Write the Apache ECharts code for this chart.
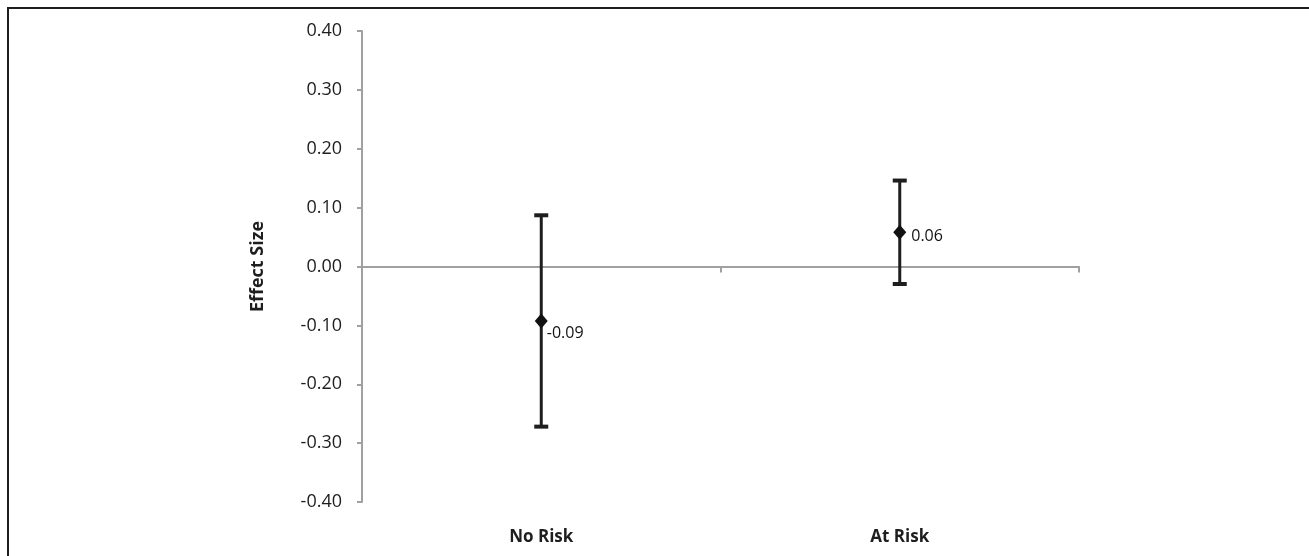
<!DOCTYPE html>
<html><head><meta charset="utf-8">
<script src="https://cdn.jsdelivr.net/npm/echarts@6/dist/echarts.min.js"></script>
<style>html,body{margin:0;padding:0;background:#fff}#c{width:1309px;height:556px}</style>
</head><body><div id="c"></div>
<script>
const categories = ['No Risk', 'At Risk'];
const effectSize = [-0.0926, 0.058];
const ciLow = [-0.272, -0.0297];
const ciHigh = [0.087, 0.146];
const yTicks = [-0.4, -0.3, -0.2, -0.1, 0, 0.1, 0.2, 0.3, 0.4];

const FONT = '"Open Sans", "Noto Sans", sans-serif';
const chart = echarts.init(document.getElementById('c'), null, {renderer: 'canvas'});
const labelOffsets = [[-5, 12], [1, 4]];

chart.setOption({
  animation: false,
  graphic: [{
    type: 'rect', shape: {x: 8, y: 8, width: 1400, height: 600},
    style: {fill: 'none', stroke: '#1e1e1e', lineWidth: 2}, z: 100
  }],
  grid: {left: 362, right: 230, top: 31, bottom: 54},
  xAxis: [{
    type: 'category', data: categories, position: 'bottom',
    axisLine: {show: false, onZero: false}, axisTick: {show: false},
    axisLabel: {color: '#1e1e1e', fontFamily: FONT, fontWeight: 'bold', fontSize: 17, margin: 27}
  }, {
    type: 'category', data: categories, position: 'bottom',
    axisLine: {onZero: true, lineStyle: {color: '#a0a0a0', width: 2}},
    axisTick: {show: true, length: 6, lineStyle: {color: '#a0a0a0', width: 2}},
    axisLabel: {show: false}
  }],
  yAxis: {
    type: 'value', min: -0.4, max: 0.4, interval: 0.1,
    name: 'Effect Size', nameLocation: 'middle', nameRotate: 90, nameGap: 95,
    nameTextStyle: {color: '#1e1e1e', fontFamily: FONT, fontWeight: 'bold', fontSize: 18},
    axisLine: {show: true, lineStyle: {color: '#a0a0a0', width: 2}},
    axisTick: {show: true, length: 5, lineStyle: {color: '#a0a0a0', width: 2}},
    splitLine: {show: false},
    axisLabel: {
      color: '#1e1e1e', fontFamily: FONT, fontSize: 18, margin: 20,
      formatter: v => {
        const t = yTicks.find(x => Math.abs(x - v) < 1e-9);
        return (t !== undefined ? t : v).toFixed(2);
      }
    }
  },
  series: [{
    type: 'custom',
    xAxisIndex: 1,
    data: categories.map((c, i) => [i, ciLow[i], ciHigh[i]]),
    renderItem: function (params, api) {
      const x = api.value(0);
      const lo = api.coord([x, api.value(1)]);
      const hi = api.coord([x, api.value(2)]);
      const hw = 7;
      const st = {stroke: '#1e1e1e', lineWidth: 3};
      return {
        type: 'group', children: [
          {type: 'line', shape: {x1: lo[0], y1: lo[1], x2: hi[0], y2: hi[1]}, style: st},
          {type: 'line', shape: {x1: lo[0] - hw, y1: lo[1], x2: lo[0] + hw, y2: lo[1]}, style: {stroke: '#1e1e1e', lineWidth: 4}},
          {type: 'line', shape: {x1: hi[0] - hw, y1: hi[1], x2: hi[0] + hw, y2: hi[1]}, style: {stroke: '#1e1e1e', lineWidth: 4}}
        ]
      };
    },
    z: 3
  }, {
    type: 'scatter',
    xAxisIndex: 1,
    symbol: 'diamond', symbolSize: [13, 15],
    itemStyle: {color: '#111', opacity: 1},
    data: effectSize.map((v, i) => ({
      value: [i, v],
      label: {offset: labelOffsets[i]}
    })),
    label: {
      show: true, position: 'right', distance: 4,
      color: '#111', fontFamily: FONT, fontSize: 16,
      formatter: p => p.value[1].toFixed(2)
    },
    z: 5
  }]
});
</script></body></html>
